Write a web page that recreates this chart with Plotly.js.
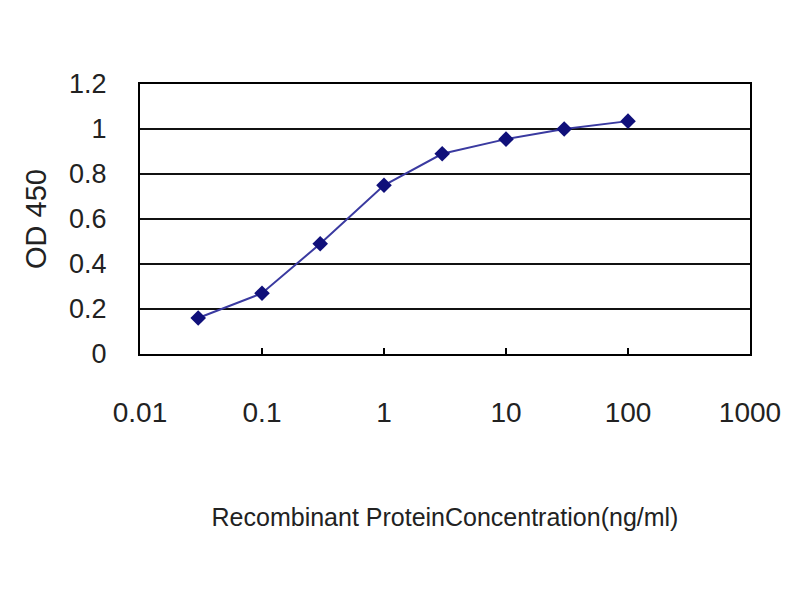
<!DOCTYPE html>
<html>
<head>
<meta charset="utf-8">
<script src="https://cdn.plot.ly/plotly-3.0.1.min.js"></script>
<style>body{margin:0;padding:0;background:#fff;}</style>
</head>
<body>
<div id="chart" style="width:800px;height:600px;"></div>
<script>
var concentration = [0.03, 0.1, 0.3, 1, 3, 10, 30, 100];
var od450 = [0.16, 0.27, 0.49, 0.75, 0.89, 0.955, 1.0, 1.035];
var xTickVals = [0.01, 0.1, 1, 10, 100, 1000];
var xTickText = ['0.01', '0.1', '1', '10', '100', '1000'];
var yTickVals = [0, 0.2, 0.4, 0.6, 0.8, 1, 1.2];
var yTickText = ['0', '0.2', '0.4', '0.6', '0.8', '1', '1.2'];

var trace = {
  x: concentration,
  y: od450,
  type: 'scatter',
  mode: 'lines+markers',
  line: {color: '#3a3aa0', width: 2},
  marker: {symbol: 'diamond', size: 12, color: '#10107a'},
  showlegend: false,
  hoverinfo: 'x+y'
};

var layout = {
  width: 800, height: 600,
  paper_bgcolor: '#ffffff', plot_bgcolor: '#ffffff',
  margin: {l: 140, r: 50, t: 84, b: 246},
  font: {family: 'Liberation Sans, Arial, sans-serif', color: '#222'},
  xaxis: {
    type: 'log', range: [-2, 3],
    tickmode: 'array', tickvals: xTickVals, ticktext: xTickText,
    showgrid: false, zeroline: false,
    showline: true, linecolor: '#000', linewidth: 2, mirror: true,
    ticks: 'inside', ticklen: 6, tickwidth: 2, tickcolor: '#000',
    tickfont: {size: 28, color: '#222'},
    ticklabelstandoff: 32,
    title: {text: 'Recombinant ProteinConcentration(ng/ml)', font: {size: 25, color: '#222'}, standoff: 82}
  },
  yaxis: {
    range: [0, 1.2],
    tickmode: 'array', tickvals: yTickVals, ticktext: yTickText,
    showgrid: true, gridcolor: '#111', gridwidth: 2,
    zeroline: false,
    showline: true, linecolor: '#000', linewidth: 2, mirror: true,
    ticks: '',
    tickfont: {size: 27, color: '#222'},
    ticklabelstandoff: 26,
    title: {text: 'OD 450', font: {size: 29, color: '#222'}, standoff: 14}
  }
};

Plotly.newPlot('chart', [trace], layout, {displayModeBar: false, staticPlot: true});
</script>
</body>
</html>
